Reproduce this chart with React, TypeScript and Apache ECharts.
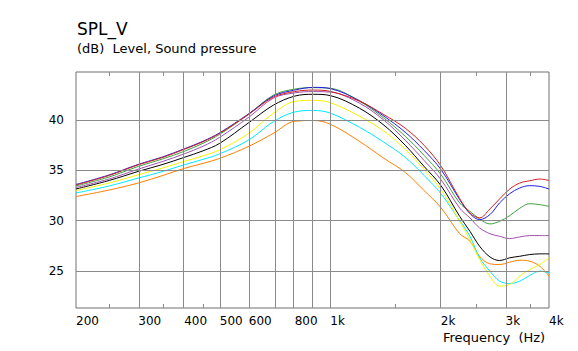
import React, { useEffect, useRef } from "react";
import * as echarts from "echarts";

const FREQS = [203, 250, 300, 350, 400, 450, 500, 600, 700, 800, 900, 1000, 1200, 1400, 1600, 1800, 2000, 2250, 2400, 2550, 2720, 2890, 3080, 3280, 3490, 3720, 3940];

const RED = [33.55, 34.5, 35.56, 36.3, 37.1, 37.85, 38.7, 40.6, 42.3, 42.85, 43.0, 42.87, 41.9, 40.55, 39.2, 37.5, 35.45, 32.2, 30.76, 30.27, 31.16, 32.16, 33.15, 33.74, 33.97, 34.14, 34.0];
const BLUE = [33.6, 34.55, 35.6, 36.35, 37.15, 37.9, 38.75, 40.65, 42.4, 43.0, 43.27, 43.15, 41.95, 40.4, 38.8, 37.0, 35.1, 32.1, 30.7, 30.1, 30.6, 31.76, 32.68, 33.25, 33.48, 33.41, 33.15];
const GREEN = [33.45, 34.35, 35.4, 36.15, 36.9, 37.7, 38.6, 40.6, 42.5, 43.1, 43.24, 43.18, 41.9, 40.2, 38.4, 36.5, 34.6, 31.76, 30.92, 30.17, 29.67, 29.93, 30.5, 31.23, 31.69, 31.59, 31.42];
const PURPLE = [33.3, 34.15, 35.13, 35.9, 36.65, 37.4, 38.3, 40.3, 42.2, 42.72, 42.85, 42.8, 41.7, 40.0, 38.0, 36.0, 34.1, 31.26, 30.27, 29.27, 28.7, 28.44, 28.21, 28.38, 28.51, 28.51, 28.51];
const BLACK = [33.15, 34.0, 34.9, 35.6, 36.3, 36.95, 37.7, 39.76, 41.5, 42.4, 42.58, 42.45, 41.2, 39.5, 37.5, 35.4, 33.5, 30.43, 28.94, 27.45, 26.39, 26.03, 26.3, 26.45, 26.62, 26.69, 26.69];
const YELLOW = [33.0, 33.75, 34.57, 35.25, 35.9, 36.45, 37.05, 38.7, 40.7, 41.87, 41.97, 41.75, 40.4, 38.9, 37.1, 35.1, 33.1, 29.93, 28.11, 26.13, 24.47, 23.48, 23.64, 24.47, 25.13, 25.63, 26.3];
const CYAN = [32.75, 33.45, 34.24, 34.9, 35.56, 36.1, 36.65, 38.04, 39.86, 40.82, 40.97, 40.7, 39.3, 37.8, 36.3, 34.5, 32.7, 30.0, 28.44, 26.3, 24.97, 23.97, 23.74, 23.97, 24.54, 24.97, 24.8];
const ORANGE = [32.4, 33.05, 33.75, 34.5, 35.2, 35.7, 36.2, 37.4, 38.7, 39.9, 39.97, 39.6, 37.9, 36.2, 34.8, 33.0, 31.3, 28.7, 27.95, 26.45, 25.7, 25.63, 25.86, 26.06, 25.96, 25.46, 24.47];

const X_MIN_F = 203;
const X_MAX_F = 3940;
const Y_MIN = 21.3;
const Y_MAX = 44.8;

const X_LABEL_FREQS = [200, 300, 400, 500, 600, 800, 1000, 2000, 3000, 4000];
const X_LABEL_TEXTS = ["200", "300", "400", "500", "600", "800", "1k", "2k", "3k", "4k"];
const X_GRID_FREQS = [300, 400, 500, 600, 700, 800, 900, 1000, 2000, 3000];
const X_MINOR_FREQS = [250, 350, 450, 1500, 2500, 3500];
const Y_TICKS = [25, 30, 35, 40];

const SERIES_DEFS = [
  { name: "orange", color: "#ff7f00", values: ORANGE },
  { name: "cyan", color: "#00e8ff", values: CYAN },
  { name: "yellow", color: "#f4f400", values: YELLOW },
  { name: "black", color: "#000000", values: BLACK },
  { name: "purple", color: "#a050b0", values: PURPLE },
  { name: "green", color: "#40a040", values: GREEN },
  { name: "blue", color: "#2020e0", values: BLUE },
  { name: "red", color: "#d02020", values: RED },
];

const lg = (f: number) => Math.log10(f);
const clampX = (v: number) => Math.min(lg(X_MAX_F), Math.max(lg(X_MIN_F), v));

export default function App() {
  const ref = useRef<HTMLDivElement>(null);
  useEffect(() => {
    if (!ref.current) return;
    const chart = echarts.init(ref.current, null, { renderer: "svg" });
    const font = "DejaVu Sans";
    const labelPos = X_LABEL_FREQS.map((f) => clampX(lg(f)));
    const gridColor = "#8a8a8a";

    const markData: any[] = [];
    X_GRID_FREQS.forEach((f) => markData.push({ xAxis: lg(f) }));
    Y_TICKS.forEach((v) => markData.push({ yAxis: v }));
    X_MINOR_FREQS.forEach((f) => {
      markData.push([{ coord: [lg(f), Y_MIN] }, { coord: [lg(f), Y_MIN + 0.4] }]);
      markData.push([{ coord: [lg(f), Y_MAX - 0.4] }, { coord: [lg(f), Y_MAX] }]);
    });

    const lineSeries = SERIES_DEFS.map((s) => ({
      type: "line",
      name: s.name,
      data: FREQS.map((f, i) => [lg(f), s.values[i]]),
      showSymbol: false,
      smooth: 0.35,
      lineStyle: { color: s.color, width: 1 },
      itemStyle: { color: s.color },
      z: 3,
    }));

    chart.setOption({
      animation: false,
      backgroundColor: "#ffffff",
      grid: {
        left: 76,
        top: 72,
        right: 29,
        bottom: 43,
        show: true,
        borderColor: "#707070",
        borderWidth: 1,
        backgroundColor: "transparent",
      },
      xAxis: {
        type: "value",
        min: lg(X_MIN_F),
        max: lg(X_MAX_F),
        axisLine: { show: false },
        axisTick: { show: false },
        splitLine: { show: false },
        axisLabel: {
          customValues: labelPos,
          align: "left",
          margin: 7,
          fontFamily: font,
          fontSize: 12,
          color: "#000",
          formatter: (v: number) => {
            let best = 0;
            let bd = Infinity;
            labelPos.forEach((p, i) => {
              const d = Math.abs(p - v);
              if (d < bd) {
                bd = d;
                best = i;
              }
            });
            return X_LABEL_TEXTS[best];
          },
        },
      },
      yAxis: {
        type: "value",
        min: Y_MIN,
        max: Y_MAX,
        axisLine: { show: false },
        axisTick: { show: false },
        splitLine: { show: false },
        axisLabel: {
          customValues: Y_TICKS,
          margin: 12,
          fontFamily: font,
          fontSize: 12,
          color: "#000",
          formatter: (v: number) => String(Math.round(v)),
        },
      },
      graphic: [
        {
          type: "text",
          left: 77,
          top: 20,
          style: { text: "SPL_V", font: `17px "${font}"`, fill: "#000" },
        },
        {
          type: "text",
          left: 77,
          top: 42,
          style: { text: "(dB)  Level, Sound pressure", font: `13px "${font}"`, fill: "#000" },
        },
        {
          type: "text",
          left: 443,
          top: 331,
          style: { text: "Frequency  (Hz)", font: `13px "${font}"`, fill: "#000" },
        },
      ],
      series: [
        {
          type: "line",
          name: "grid",
          data: [],
          silent: true,
          z: 1,
          markLine: {
            silent: true,
            symbol: "none",
            animation: false,
            label: { show: false },
            lineStyle: { color: gridColor, width: 1, type: "solid" },
            emphasis: { disabled: true },
            data: markData,
          },
        },
        ...lineSeries,
      ],
    });
    return () => chart.dispose();
  }, []);
  return (
    <div
      ref={ref}
      style={{ position: "fixed", left: 0, top: 0, width: 578, height: 351, background: "#fff" }}
    />
  );
}
